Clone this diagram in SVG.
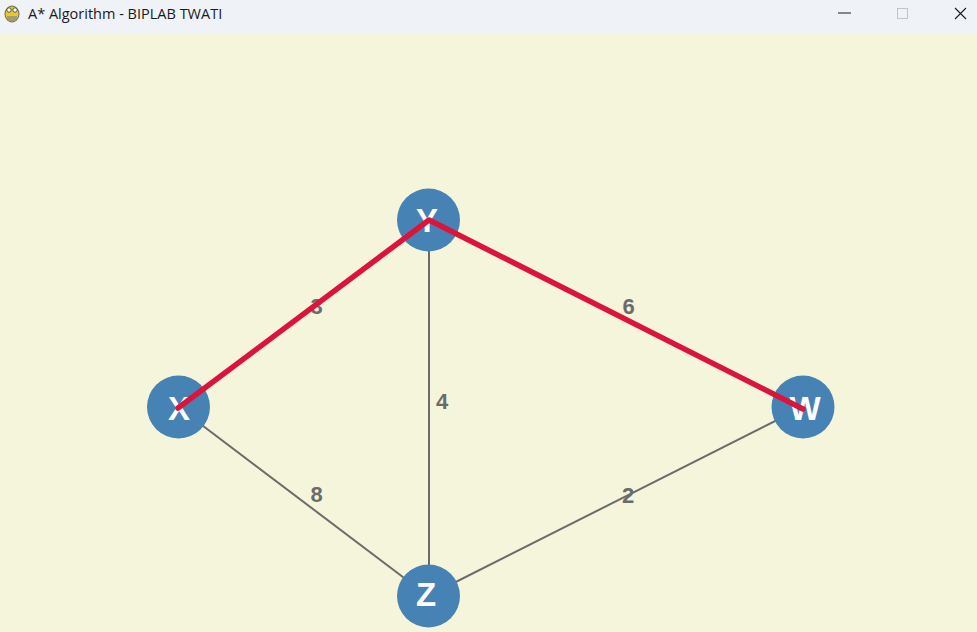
<svg xmlns="http://www.w3.org/2000/svg" width="977" height="632" viewBox="0 0 977 632">
<style>
.edge{stroke:#6b6b6b;stroke-width:2;fill:none}
.path{stroke:#dc143c;stroke-width:5.5;fill:none;stroke-linecap:round;stroke-linejoin:round}
.w{font-family:"Liberation Sans",Arial,sans-serif;font-weight:bold;font-size:22px;fill:#6b6b6b;text-anchor:middle}
.node circle{fill:#4682b4}
.node text{font-family:"Liberation Sans",Arial,sans-serif;font-weight:bold;font-size:33px;fill:#ffffff;text-anchor:middle}
.title{font-family:"Open Sans","Liberation Sans",sans-serif;font-size:14.5px;fill:#1a1a1a}
</style>
<rect width="977" height="632" fill="#f5f5dc"/>
<g id="titlebar">
<rect width="977" height="33" fill="#eff2f6"/>
<g id="icon">
<ellipse cx="12" cy="14" rx="7" ry="8" fill="#e8c830" stroke="#6e6a3a" stroke-width="1"/>
<circle cx="9" cy="10" r="2.2" fill="#ffffff" stroke="#333" stroke-width="0.8"/>
<circle cx="15" cy="10" r="2.2" fill="#ffffff" stroke="#333" stroke-width="0.8"/>
<rect x="7" y="16" width="10" height="5" fill="#8a8a8a" opacity="0.7"/>
</g>
<text class="title" x="28" y="19">A* Algorithm - BIPLAB TWATI</text>
<line x1="838" y1="13" x2="851" y2="13" stroke="#1a1a1a" stroke-width="1"/>
<rect x="897.5" y="8.5" width="10" height="10" fill="none" stroke="#c4c4c4" stroke-width="1"/>
<path d="M955 8 L966 19 M966 8 L955 19" stroke="#1a1a1a" stroke-width="1.1" fill="none"/>
</g>
<g id="edges">
<line class="edge" x1="178" y1="407" x2="428" y2="220"/>
<line class="edge" x1="428" y1="220" x2="803" y2="407"/>
<line class="edge" x1="429" y1="220" x2="429" y2="596"/>
<line class="edge" x1="178" y1="407" x2="428" y2="596"/>
<line class="edge" x1="803" y1="407" x2="428" y2="596"/>
</g>
<g id="weights">
<text class="w" x="316.5" y="314">3</text>
<text class="w" x="628.5" y="314">6</text>
<text class="w" x="442" y="409">4</text>
<text class="w" x="316.5" y="502">8</text>
<text class="w" x="628" y="503">2</text>
</g>
<g id="node-Y" class="node"><circle cx="428.5" cy="220" r="31.5"/><text x="427" y="232">Y</text></g>
<g id="node-X" class="node"><circle cx="178.5" cy="407" r="31.5"/><text x="179" y="420">X</text></g>
<g id="node-W" class="node"><circle cx="803" cy="407" r="31.5"/><text x="805" y="420">W</text></g>
<g id="node-Z" class="node"><circle cx="428.5" cy="596" r="31.5"/><text x="426" y="606">Z</text></g>
<g id="path">
<polyline class="path" points="178,408 429,220 803,409"/>
</g>
</svg>
